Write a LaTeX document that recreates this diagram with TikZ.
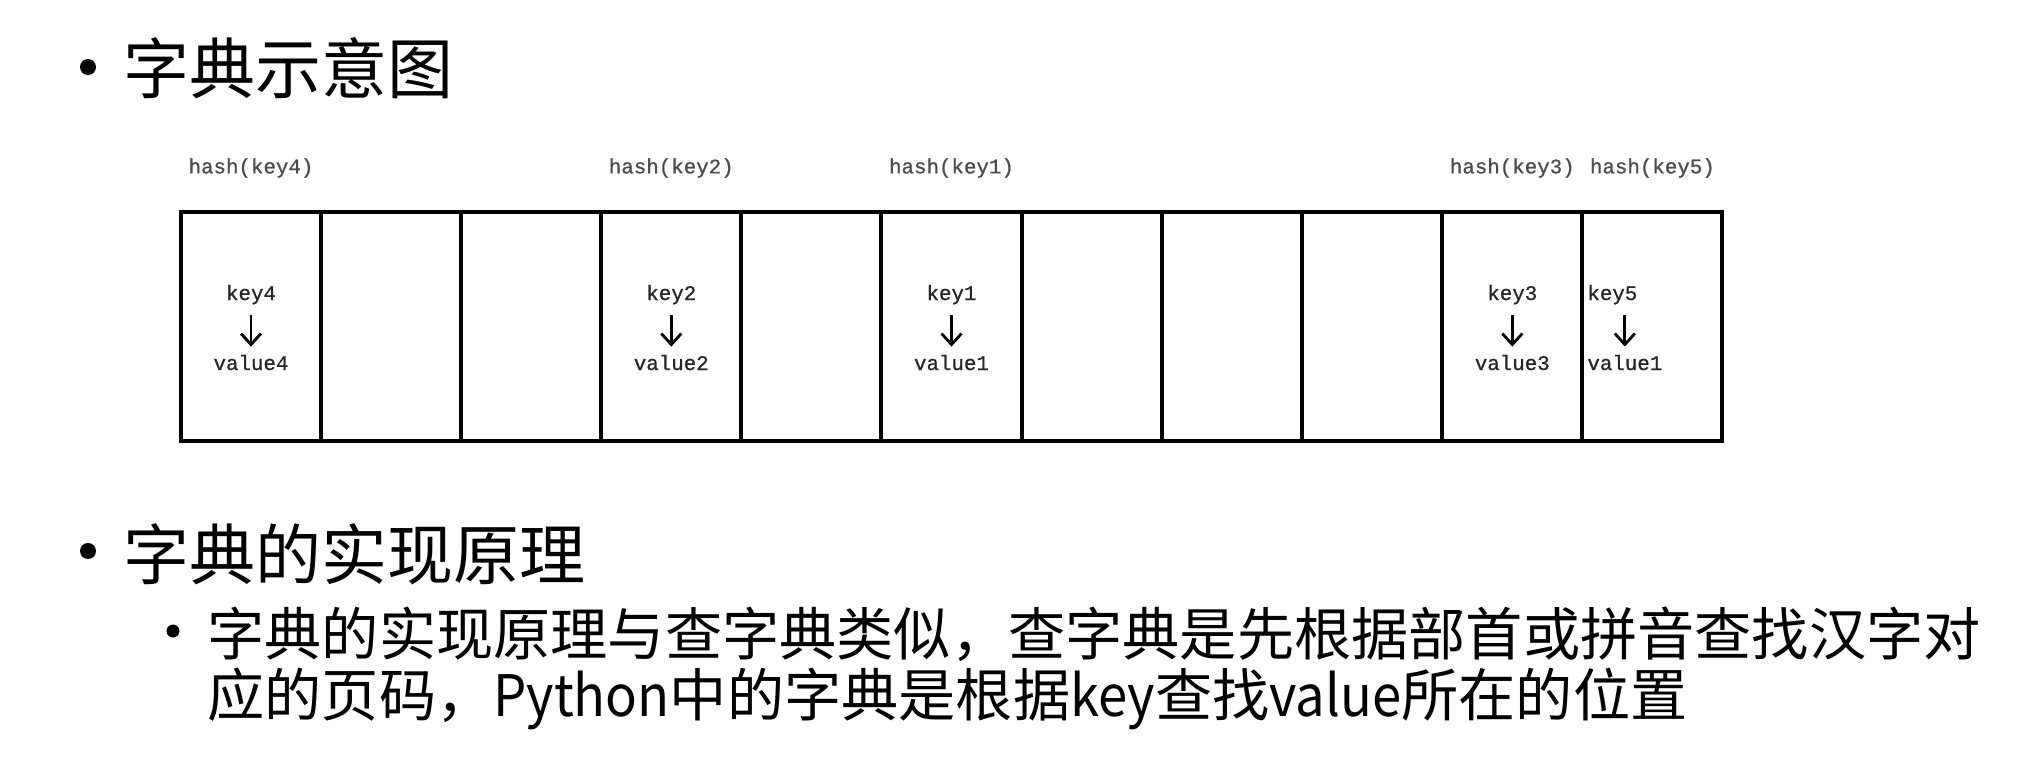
\documentclass[tikz,border=0pt]{standalone}
\usepackage{fontspec}
\setmainfont{Noto Sans CJK SC}
\newfontfamily\cjkfont{Noto Sans CJK SC}
\newfontfamily\narrowlat[FakeStretch=0.92]{Noto Sans CJK SC}
\newfontfamily\labfont[FakeBold=0.8]{Liberation Mono}
\usetikzlibrary{arrows.meta}
\begin{document}
\begin{tikzpicture}[x=0.5pt,y=-0.5pt,
  cell/.style={draw, line width=2pt, minimum width=70.05pt, minimum height=114.5pt, inner sep=0pt, outer sep=0pt},
  hashlbl/.style={font=\labfont\fontsize{10.4}{12}\selectfont, text=black!70, inner sep=0pt},
  kv/.style={font=\labfont\fontsize{10.4}{12}\selectfont, text=black!85, inner sep=0pt, text height=7pt, text depth=2pt},
  kvarrow/.style={-{Straight Barb[length=5.5pt,width=10pt,line width=1.4pt]}, line width=1.4pt, shorten <=5.5pt, shorten >=4.5pt},
  bigtitle/.style={font=\cjkfont\fontsize{33}{38}\selectfont, anchor=west, inner sep=0pt},
  subtext/.style={font=\cjkfont\fontsize{28.6}{33}\selectfont, anchor=west, inner sep=0pt},
  bigdot/.style={circle, fill=black, inner sep=0pt, minimum size=8pt},
  smalldot/.style={circle, fill=black, inner sep=0pt, minimum size=6.5pt}
]
\useasboundingbox (0,0) rectangle (2030,762);
\fill[white] (0,0) rectangle (2030,762);

% headings
\node[bigdot] (b1) at (88,67) {};
\node[bigtitle] (t1) at (123,68) {字典示意图};

% hash table cells
\foreach \i in {1,...,11}
  \node[cell] (c\i) at ({181+140.09*(\i-0.5)},326.5) {};

% hash labels
\node[hashlbl] (h4) at (251.0,168) {hash(key4)};
\node[hashlbl] (h2) at (671.3,168) {hash(key2)};
\node[hashlbl] (h1) at (951.5,168) {hash(key1)};
\node[hashlbl] (h3) at (1512.3,168) {hash(key3)};
\node[hashlbl] (h5) at (1652.4,168) {hash(key5)};

% key -> value entries
\node[kv] (k4) at (251.0,295) {key4};
\node[kv] (v4) at (251.0,365) {value4};
\draw[kvarrow] (k4) -- (v4);

\node[kv] (k2) at (671.3,295) {key2};
\node[kv] (v2) at (671.3,365) {value2};
\draw[kvarrow] (k2) -- (v2);

\node[kv] (k1) at (951.5,295) {key1};
\node[kv] (v1) at (951.5,365) {value1};
\draw[kvarrow] (k1) -- (v1);

\node[kv] (k3) at (1512.3,295) {key3};
\node[kv] (v3) at (1512.3,365) {value3};
\draw[kvarrow] (k3) -- (v3);

\node[kv, anchor=west] (k5) at (1587,295) {key5};
\node[kv, anchor=west] (v5) at (1587,365) {value1};
\coordinate (a5) at (v5.north |- k5.south);
\draw[kvarrow] (a5) -- (v5.north);

% second part
\node[bigdot] (b2) at (88,551) {};
\node[bigtitle] (t2) at (123,554) {字典的实现原理};
\node[smalldot] (b3) at (173,631) {};
\node[subtext] (s1) at (207,634) {字典的实现原理与查字典类似，查字典是先根据部首或拼音查找汉字对};
\node[subtext] (s2) at (207,699) {应的页码，{\narrowlat Python}中的字典是根据{\narrowlat key}查找{\narrowlat value}所在的位置};
\end{tikzpicture}
\end{document}
